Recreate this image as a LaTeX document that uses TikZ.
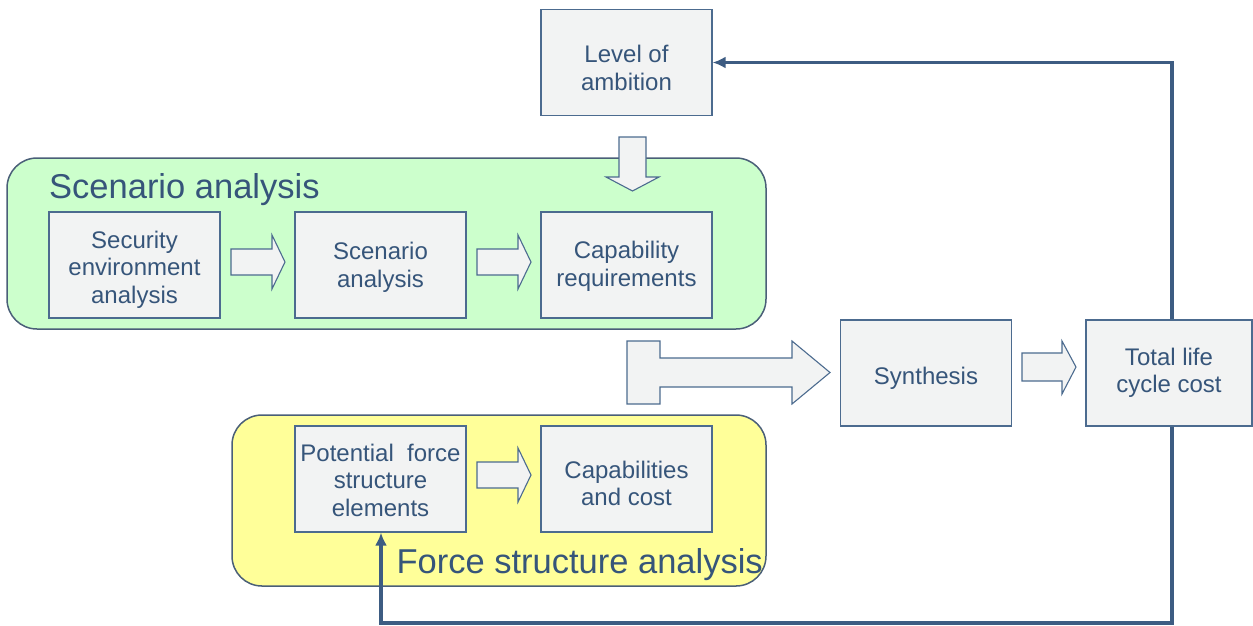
\documentclass[tikz,border=0pt]{standalone}
\usepackage{fontspec}
\setmainfont{Liberation Sans}
\usetikzlibrary{arrows.meta}
\definecolor{txt}{HTML}{36557A}
\definecolor{bord}{HTML}{4C6B8F}
\definecolor{boxfill}{HTML}{F2F3F3}
\definecolor{grn}{HTML}{CCFFCC}
\definecolor{ylw}{HTML}{FFFF99}
\definecolor{panelbord}{HTML}{4A5F78}
\definecolor{fb}{HTML}{3D5C82}
\newcommand{\bt}[3][26pt]{\parbox{#2}{\centering\rule{0pt}{#1}#3}}
\tikzset{
  stepbox/.style={draw=bord, line width=1.2pt, fill=boxfill, text=txt,
    font=\fontsize{24}{27.5}\selectfont, minimum width=171pt, minimum height=106pt,
    inner sep=0pt},
  panel/.style={draw=panelbord, line width=1.5pt, rounded corners=30pt},
  blockarrow/.style={draw=bord, line width=1.1pt, fill=boxfill, line join=miter},
  feedback/.style={draw=fb, line width=3.2pt, -{Latex[length=13pt,width=12pt]}},
  paneltitle/.style={text=txt, font=\fontsize{34.5}{38}\selectfont, inner sep=0pt}
}
\begin{document}
\begin{tikzpicture}[x=1pt,y=-1pt]
\useasboundingbox (0,0) rectangle (1253,625);
% panels
\draw[panel, fill=grn] (7,158) rectangle (766,329);
\draw[panel, fill=ylw] (232,415) rectangle (766,586);
\node[paneltitle, anchor=west] (sctitle) at (49,190) {Scenario analysis};
\node[paneltitle, anchor=east] (fstitle) at (763,565) {Force structure analysis};
% boxes
\node[stepbox] (amb) at (626.5,62.5) {\bt[28pt]{168pt}{Level of\\ambition}};
\node[stepbox] (sec) at (134.5,265) {\bt{168pt}{Security\\environment\\analysis}};
\node[stepbox] (scn) at (380.5,265) {\bt[22pt]{168pt}{Scenario\\analysis}};
\node[stepbox] (cap) at (626.5,265) {\bt[20pt]{168pt}{Capability\\requirements}};
\node[stepbox] (pot) at (380.5,479) {\bt[20pt]{168pt}{Potential\ \ force\\structure\\elements}};
\node[stepbox] (cc) at (626.5,479) {\bt{168pt}{Capabilities\\and cost}};
\node[stepbox] (syn) at (926,373) {\bt[28pt]{168pt}{Synthesis}};
\node[stepbox, minimum width=166pt] (tot) at (1169,373) {\bt[0pt]{164pt}{Total life\\cycle cost}};
% block arrows
\draw[blockarrow] (231,249) -- (272,249) -- (272,235) -- (285,262) -- (272,289) -- (272,275) -- (231,275) -- cycle;
\draw[blockarrow] (477,249) -- (518,249) -- (518,235) -- (531,262) -- (518,289) -- (518,275) -- (477,275) -- cycle;
\draw[blockarrow] (477,462) -- (518,462) -- (518,448) -- (531,475) -- (518,502) -- (518,488) -- (477,488) -- cycle;
\draw[blockarrow] (1022,353) -- (1062,353) -- (1062,341) -- (1076,367) -- (1062,394) -- (1062,381) -- (1022,381) -- cycle;
\draw[blockarrow] (619,137) -- (646,137) -- (646,177) -- (659,177) -- (632.5,191) -- (606,177) -- (619,177) -- cycle;
\draw[blockarrow] (627,341) -- (660,341) -- (660,358) -- (792,358) -- (792,341) -- (830,372.5) -- (792,404) -- (792,387) -- (660,387) -- (660,404) -- (627,404) -- cycle;
% feedback loops
\draw[feedback] ([xshift=3pt]tot.north) |- (amb.east);
\coordinate (bl) at (381,623);
\draw[feedback] ([xshift=3pt]tot.south) |- (bl) -- (pot.south -| bl);
\end{tikzpicture}
\end{document}
